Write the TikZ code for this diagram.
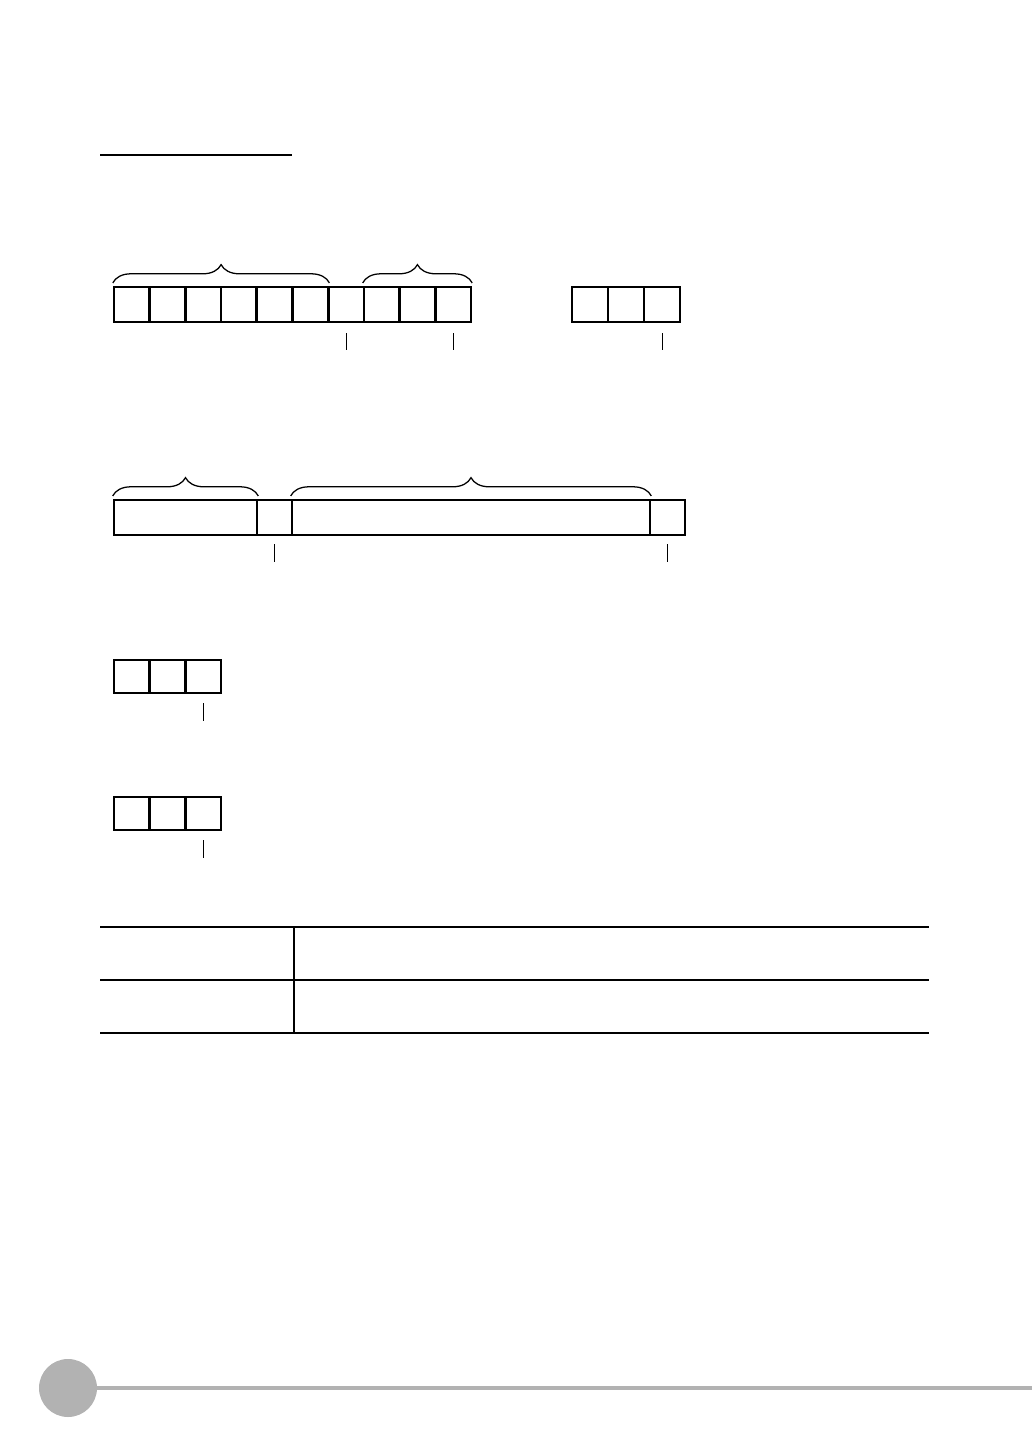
\documentclass[tikz,border=0pt]{standalone}
\usepackage{tikz}
\usetikzlibrary{decorations.pathreplacing}
\definecolor{footgray}{RGB}{178,178,178}

\begin{document}
\begin{tikzpicture}[x=0.025cm,y=-0.025cm]
\useasboundingbox (0,0) rectangle (1032,1456);
\tikzset{brc/.style={decorate,decoration={brace,amplitude=13pt},line width=0.9pt},
tick/.style={line width=0.7pt}}

% heading rule
\draw[line width=0.9pt] (100,155) -- (292,155);

\begin{scope}[every node/.style={rectangle,draw,line width=1.8pt,inner sep=0pt,minimum width=0.89cm,minimum height=0.875cm}]
% first frame
\node (c1) at (131.85,304.5) {};
\node (c2) at (167.55,304.5) {};
\node (c3) at (203.25,304.5) {};
\node (c4) at (238.95,304.5) {};
\node (c5) at (274.65,304.5) {};
\node (c6) at (310.35,304.5) {};
\node (c7) at (346.05,304.5) {};
\node (c8) at (381.75,304.5) {};
\node (c9) at (417.45,304.5) {};
\node (c10) at (453.15,304.5) {};

\node (r1) at (590,304.5) {};
\node (r2) at (626,304.5) {};
\node (r3) at (662,304.5) {};

% second frame
\node (f1) [minimum width=3.575cm] at (185.5,517.5) {};
\node (f2) [minimum width=0.875cm] at (274.5,517.5) {};
\node (f3) [minimum width=8.95cm] at (471,517.5) {};
\node (f4) [minimum width=0.875cm] at (667.5,517.5) {};

% short frames
\node (a1) [minimum height=0.825cm] at (131.8,676.5) {};
\node (a2) [minimum height=0.825cm] at (167.5,676.5) {};
\node (a3) [minimum height=0.825cm] at (203.2,676.5) {};

\node (b1) [minimum height=0.825cm] at (131.8,813.5) {};
\node (b2) [minimum height=0.825cm] at (167.5,813.5) {};
\node (b3) [minimum height=0.825cm] at (203.2,813.5) {};
\end{scope}

% braces
\draw[brc] ([yshift=2pt]c1.north west) -- ([yshift=2pt]c6.north east);
\draw[brc] ([yshift=2pt]c8.north west) -- ([yshift=2pt]c10.north east);
\draw[brc] ([yshift=2pt]f1.north west) -- ([yshift=2pt]f1.north east);
\draw[brc] ([yshift=2pt]f3.north west) -- ([yshift=2pt]f3.north east);

% ticks
\draw[tick] ([yshift=-0.25cm]c7.south) -- ++(0,17);
\draw[tick] ([yshift=-0.25cm]c10.south) -- ++(0,17);
\draw[tick] ([yshift=-0.25cm]r3.south) -- ++(0,17);
\draw[tick] ([yshift=-0.2cm]f2.south) -- ++(0,18);
\draw[tick] ([yshift=-0.2cm]f4.south) -- ++(0,18);
\draw[tick] ([yshift=-0.22cm]a3.south) -- ++(0,18);
\draw[tick] ([yshift=-0.22cm]b3.south) -- ++(0,18);

% table
\draw[line width=0.9pt] (100,927) -- (929,927);
\draw[line width=0.9pt] (100,980) -- (929,980);
\draw[line width=1.1pt] (100,1033) -- (929,1033);
\draw[line width=0.9pt] (294,927) -- (294,1033);

% footer
\fill[footgray] (68,1388) ellipse (29 and 29);
\draw[footgray,line width=2.2pt] (97,1388) -- (1032,1388);
\end{tikzpicture}
\end{document}
